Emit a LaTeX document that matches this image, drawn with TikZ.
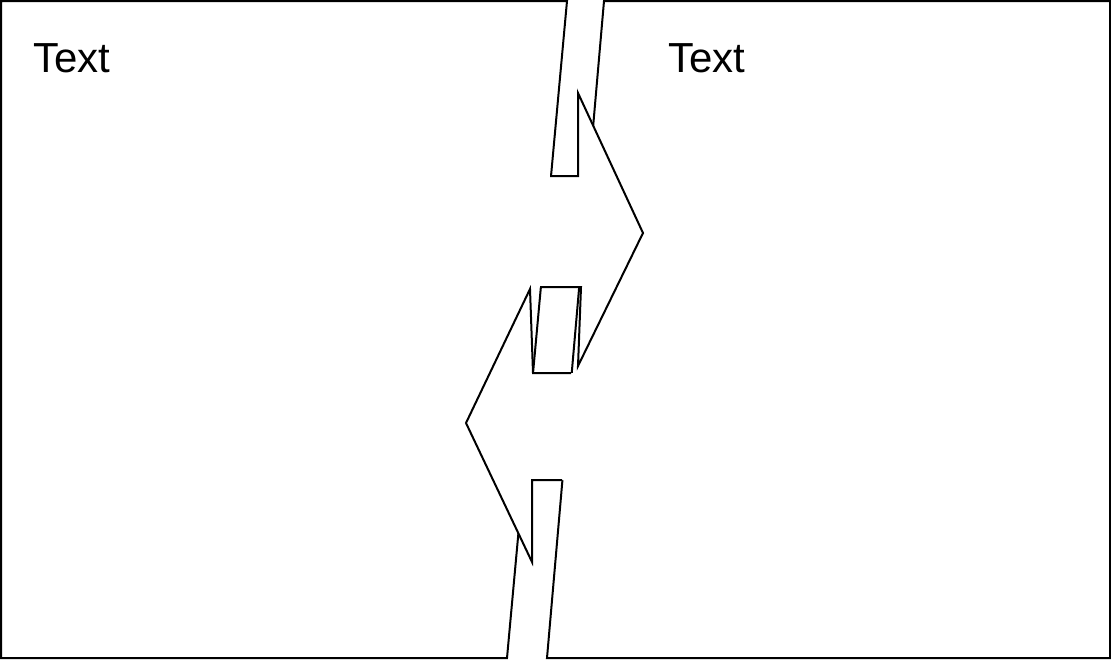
\documentclass[tikz,border=0pt]{standalone}
\usepackage{fontspec}
\setmainfont{Liberation Sans}
\usetikzlibrary{positioning}

\begin{document}
\begin{tikzpicture}[
  x=1pt, y=-1pt,
  panel/.style={
    draw=black, fill=white, line width=2pt
  },
  outline/.style={draw=black, line width=2pt},
  paneltext/.style={
    font=\fontsize{42}{50}\selectfont, inner sep=0pt, anchor=base west
  }
]
\useasboundingbox (0,0) rectangle (1111,659);

% the two halves with the slanted crack between them
\draw[panel] (1,1) -- (567,1) -- (507,658) -- (1,658) -- cycle;
\draw[panel] (604,1) -- (1110,1) -- (1110,658) -- (547,658) -- cycle;

% tongue of the left half (fill reaches a bit into the half to hide its edge)
\fill[white] (547,176) -- (578,176) -- (578,93) -- (643,233) -- (578,366)
  -- (581,287) -- (536,287) -- cycle;
\draw[outline] (550,176) -- (578,176) -- (578,93) -- (643,233) -- (578,366)
  -- (581,287) -- (540,287);

% tongue of the right half
\fill[white] (566,480) -- (532,480) -- (532,562) -- (466,423) -- (530,289)
  -- (533,373) -- (575,373) -- cycle;
\draw[outline] (562,480) -- (532,480) -- (532,562) -- (466,423) -- (530,289)
  -- (533,373) -- (571,373);

\node[paneltext] (lefttext) at (33,72) {Text};
\node[paneltext] (righttext) at (668,72) {Text};
\end{tikzpicture}
\end{document}
